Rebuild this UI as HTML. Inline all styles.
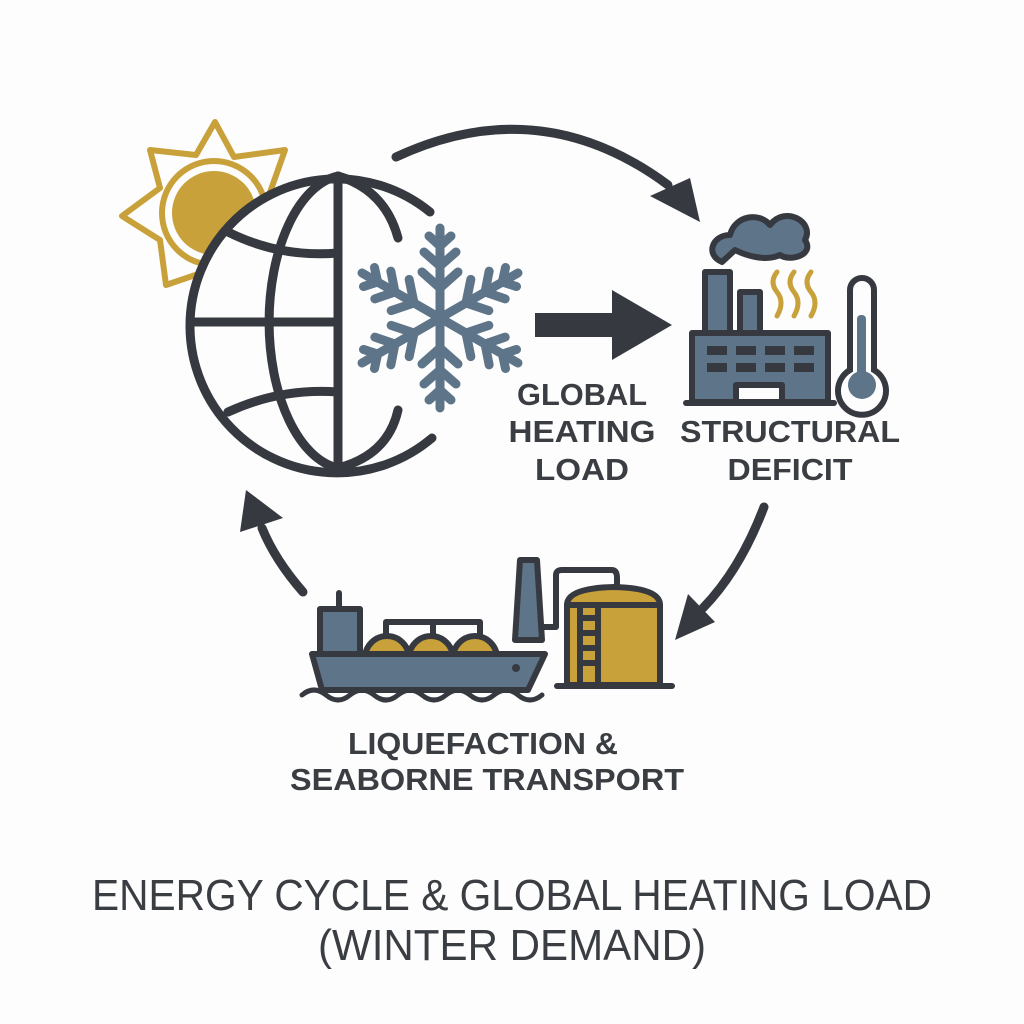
<!DOCTYPE html>
<html><head><meta charset="utf-8"><style>
html,body{margin:0;padding:0;background:#fdfdfd;}
svg{display:block;}
text{font-family:"Liberation Sans",sans-serif;fill:#3a3d42;}
</style></head><body>
<svg width="1024" height="1024" viewBox="0 0 1024 1024" xmlns="http://www.w3.org/2000/svg">
<rect width="1024" height="1024" fill="#fdfdfd"/>
<!-- Sun -->
<g stroke="#C9A13B" stroke-width="6" fill="none" stroke-linejoin="round">
<polygon points="215,122 234,157 285,150 268,198 300,232 258,247 250,290 210,270 166,285 160,240 122,216 160,188 150,150 196,155" fill="#fdfdfd"/>
</g>
<circle cx="214" cy="213" r="52" fill="#fdfdfd" stroke="#C9A13B" stroke-width="6"/>
<circle cx="214" cy="213" r="42" fill="#C9A13B"/>
<!-- Globe -->
<g stroke="#363a40" stroke-width="9" fill="none" stroke-linecap="round">
<path d="M430,212 A147,147 0 1 0 432,438" fill="#fdfdfd"/>
<path d="M338,176 L338,468"/>
<path d="M338,176 A78,147 0 0 0 338,468"/>
<path d="M338,176 Q385,190 398,238"/>
<path d="M398,410 Q388,455 338,468"/>
<path d="M191,322 L338,322"/>
<path d="M228,232 Q280,258 338,253"/>
<path d="M228,412 Q280,388 338,392"/>
</g>
<!-- Snowflake -->
<g stroke="#5E7488" stroke-width="9" stroke-linecap="round" fill="none" transform="translate(440,318)">
<g id="arm"><path d="M0,0 L0,-90 M0,-30 L-18,-46 M0,-30 L18,-46 M0,-52 L-16,-66 M0,-52 L16,-66 M0,-72 L-11,-82 M0,-72 L11,-82"/></g>
<use href="#arm" transform="rotate(60)"/><use href="#arm" transform="rotate(120)"/><use href="#arm" transform="rotate(180)"/><use href="#arm" transform="rotate(240)"/><use href="#arm" transform="rotate(300)"/>
</g>
<!-- Straight arrow -->
<rect x="535" y="313" width="85" height="24" fill="#363a40"/>
<polygon points="612,290 672,325 612,360" fill="#363a40"/>
<!-- Cycle arrows -->
<g stroke="#363a40" stroke-width="9" fill="none" stroke-linecap="round">
<path d="M396,157 Q540,90 668,185"/>
<path d="M764,507 Q740,570 703,608"/>
<path d="M303,592 Q275,560 262,528"/>
</g>
<polygon points="650,196 690,178 700,222" fill="#363a40"/>
<polygon points="688,594 715,622 675,640" fill="#363a40"/>
<polygon points="246,490 283,518 240,532" fill="#363a40"/>
<!-- Factory -->
<g stroke="#363a40" stroke-width="6" stroke-linejoin="round">
<path d="M722,262 C705,255 712,235 730,235 C735,215 760,212 770,225 C785,205 815,222 805,240 C815,255 790,262 780,255 C765,262 745,255 735,250 Z" fill="#5E7488"/>
<rect x="705" y="272" width="25" height="64" fill="#5E7488"/>
<rect x="740" y="292" width="20" height="44" fill="#5E7488"/>
<rect x="692" y="333" width="136" height="69" fill="#5E7488"/>
<rect x="736" y="385" width="46" height="17" fill="#fdfdfd"/>
</g>
<path d="M686,403 L834,403" stroke="#363a40" stroke-width="6" stroke-linecap="round"/>
<g fill="#363a40">
<rect x="707" y="346" width="20" height="9"/><rect x="736" y="346" width="20" height="9"/><rect x="765" y="346" width="20" height="9"/><rect x="794" y="346" width="20" height="9"/>
<rect x="707" y="363" width="20" height="9"/><rect x="736" y="363" width="20" height="9"/><rect x="765" y="363" width="20" height="9"/><rect x="794" y="363" width="20" height="9"/>
</g>
<g stroke="#C9A13B" stroke-width="5" fill="none" stroke-linecap="round">
<path d="M777,272 q-8,10 0,20 q8,10 0,24"/><path d="M794,272 q-8,10 0,20 q8,10 0,24"/><path d="M811,272 q-8,10 0,20 q8,10 0,24"/>
</g>
<path d="M850,370 L850,290 a12,12 0 0 1 24,0 L874,370 a24,24 0 1 1 -24,0 Z" fill="#fdfdfd" stroke="#363a40" stroke-width="6"/>
<rect x="857" y="315" width="9" height="65" rx="4" fill="#5E7488"/>
<circle cx="862" cy="385" r="14" fill="#5E7488"/>
<!-- Ship & terminal -->
<g stroke="#363a40" stroke-width="6" stroke-linejoin="round" stroke-linecap="round">
<rect x="320" y="609" width="40" height="48" fill="#5E7488"/>
<path d="M339,593 L339,609" fill="none"/>
<circle cx="387" cy="658" r="22" fill="#C9A13B"/>
<circle cx="431" cy="658" r="22" fill="#C9A13B"/>
<circle cx="475" cy="658" r="22" fill="#C9A13B"/>
<path d="M386,635 L386,622 L480,622 L480,635 M433,622 L433,635" fill="none"/>
<path d="M312,654 L545,654 L528,690 L322,690 Z" fill="#5E7488"/>
<path d="M302,695 q12,-10 24,0 q12,10 24,0 q12,-10 24,0 q12,10 24,0 q12,-10 24,0 q12,10 24,0 q12,-10 24,0 q12,10 24,0 q12,-10 24,0 q12,10 24,0" fill="none" stroke-width="5"/>
<path d="M520,560 L537,560 L542,640 L515,640 Z" fill="#5E7488"/>
<path d="M542,627 L556,627 L556,575 Q556,570 562,570 L612,570 Q617,570 617,578 L617,590" fill="none"/>
<path d="M567,605 Q567,588 614,587 Q660,588 660,605 L660,685 L567,685 Z" fill="#C9A13B"/>
<path d="M567,605 L660,605 M580,605 L580,685 M598,605 L598,685" fill="none"/>
<path d="M557,686 L672,686" fill="none"/>
</g>
<circle cx="516" cy="668" r="4" fill="#363a40"/>
<g fill="#363a40"><rect x="583" y="615" width="12" height="6"/><rect x="583" y="630" width="12" height="6"/><rect x="583" y="645" width="12" height="6"/><rect x="583" y="660" width="12" height="6"/></g>
<!-- Labels -->
<g font-weight="bold" font-size="31" text-anchor="middle">
<text x="582" y="405" textLength="130" lengthAdjust="spacingAndGlyphs">GLOBAL</text>
<text x="582" y="442" textLength="147" lengthAdjust="spacingAndGlyphs">HEATING</text>
<text x="582" y="480" textLength="94" lengthAdjust="spacingAndGlyphs">LOAD</text>
<text x="790" y="442" textLength="220" lengthAdjust="spacingAndGlyphs">STRUCTURAL</text>
<text x="790" y="480" textLength="125" lengthAdjust="spacingAndGlyphs">DEFICIT</text>
<text x="483" y="754" textLength="270" lengthAdjust="spacingAndGlyphs">LIQUEFACTION &amp;</text>
<text x="487" y="790" textLength="394" lengthAdjust="spacingAndGlyphs">SEABORNE TRANSPORT</text>
</g>
<g font-size="44" text-anchor="middle">
<text x="512" y="910" textLength="840" lengthAdjust="spacingAndGlyphs">ENERGY CYCLE &amp; GLOBAL HEATING LOAD</text>
<text x="512" y="960" textLength="388" lengthAdjust="spacingAndGlyphs">(WINTER DEMAND)</text>
</g>
</svg>
</body></html>
